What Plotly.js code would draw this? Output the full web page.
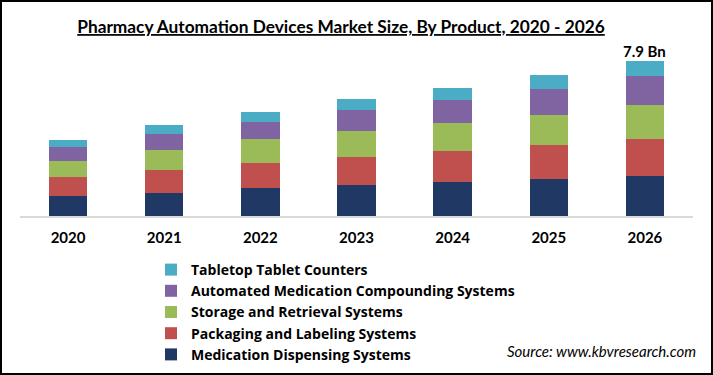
<!DOCTYPE html>
<html>
<head>
<meta charset="utf-8">
<script src="https://cdn.plot.ly/plotly-3.0.1.min.js"></script>
<style>
html,body{margin:0;padding:0;background:#fff;}
#chart{width:713px;height:375px;}
</style>
</head>
<body>
<div id="chart"></div>
<script>
const years = ['2020','2021','2022','2023','2024','2025','2026'];
const seriesNames = [
  'Medication Dispensing Systems',
  'Packaging and Labeling Systems',
  'Storage and Retrieval Systems',
  'Automated Medication Compounding Systems',
  'Tabletop Tablet Counters'
];
const medicationDispensing = [1.01, 1.17, 1.43, 1.58, 1.72, 1.87, 2.03];
const packagingLabeling   = [0.99, 1.16, 1.26, 1.41, 1.58, 1.74, 1.89];
const storageRetrieval    = [0.80, 1.02, 1.21, 1.33, 1.43, 1.53, 1.75];
const compounding         = [0.72, 0.83, 0.90, 1.07, 1.16, 1.33, 1.48];
const tabletopCounters    = [0.36, 0.44, 0.50, 0.56, 0.63, 0.72, 0.75];
const seriesColors = ['#1f3864', '#c0504d', '#9bbb59', '#8064a2', '#4bacc6'];

const seriesValues = [medicationDispensing, packagingLabeling, storageRetrieval, compounding, tabletopCounters];

const W = 713, H = 375;
const mL = 20, mR = 20, mT = 45, mB = 159;
const pw = W - mL - mR, ph = H - mT - mB;
const pxPerUnit = 19.62;

const traces = seriesValues.map((vals, i) => ({
  type: 'bar',
  name: seriesNames[i],
  x: years,
  y: vals,
  marker: {color: seriesColors[i], line: {width: 0}},
  hoverinfo: 'x+y+name'
}));

const lastIdx = years.length - 1;
const lastTotal = seriesValues.reduce((s, arr) => s + arr[lastIdx], 0);

const px2x = p => (p - mL) / pw;
const px2y = p => (H - mB - p) / ph;

const layout = {
  width: W, height: H,
  margin: {l: mL, r: mR, t: mT, b: mB, pad: 0, autoexpand: false},
  paper_bgcolor: '#ffffff',
  plot_bgcolor: '#ffffff',
  barmode: 'stack',
  bargap: 0.6,
  font: {family: 'Lato, sans-serif', color: '#000'},
  title: {
    text: '<b>Pharmacy Automation Devices Market Size, By Product, 2020 - 2026</b>',
    font: {family: 'Lato, sans-serif', size: 17.3, color: '#000', lineposition: 'under'},
    xref: 'container', yref: 'container',
    x: 341 / W, xanchor: 'center',
    y: 1 - 27 / H, yanchor: 'middle'
  },
  xaxis: {
    type: 'category',
    range: [-0.5, years.length - 0.5],
    autorange: false,
    showgrid: false, zeroline: false,
    showline: true, linecolor: '#d9d9d9', linewidth: 1.5,
    ticks: '',
    ticklabelstandoff: 7,
    tickfont: {family: 'Lato, sans-serif', size: 15, color: '#000', weight: 'bold'},
    fixedrange: true
  },
  yaxis: {
    visible: false,
    range: [0, ph / pxPerUnit],
    autorange: false,
    fixedrange: true
  },
  showlegend: true,
  legend: {
    traceorder: 'reversed',
    xref: 'container', yref: 'container',
    x: 151 / W, xanchor: 'left',
    y: 1 - 254 / H, yanchor: 'top',
    font: {family: '"Open Sans", sans-serif', size: 14, color: '#000', weight: 'bold'},
    bgcolor: 'rgba(0,0,0,0)',
    tracegroupgap: 0
  },
  annotations: [
    {
      x: lastIdx, y: lastTotal, xref: 'x', yref: 'y',
      text: '<b>' + lastTotal.toFixed(1) + ' Bn</b>',
      showarrow: false, yanchor: 'bottom', yshift: -1,
      font: {family: 'Lato, sans-serif', size: 15, color: '#000'}
    },
    {
      xref: 'paper', yref: 'paper',
      x: px2x(698), y: px2y(351), xanchor: 'right', yanchor: 'middle',
      text: '<i>Source: www.kbvresearch.com</i>',
      showarrow: false,
      font: {family: 'Lato, sans-serif', size: 15, color: '#000'}
    }
  ],
  shapes: [
    {
      type: 'rect', xref: 'paper', yref: 'paper',
      x0: px2x(1), x1: px2x(W - 1), y0: px2y(H - 1), y1: px2y(1),
      line: {color: '#000', width: 2}, fillcolor: 'rgba(0,0,0,0)', layer: 'above'
    }
  ]
};

Plotly.newPlot('chart', traces, layout, {displayModeBar: false, staticPlot: true});
</script>
</body>
</html>
